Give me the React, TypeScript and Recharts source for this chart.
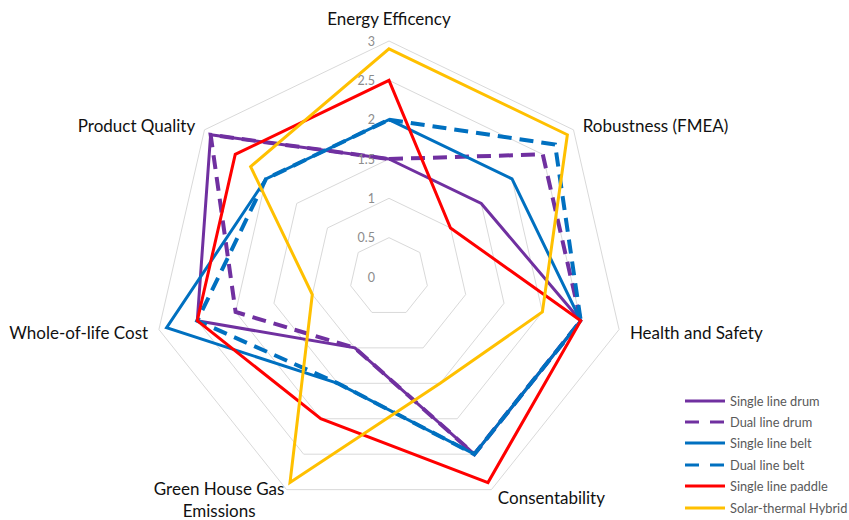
import React from 'react';
import { RadarChart, Radar, PolarGrid, PolarAngleAxis, PolarRadiusAxis, Legend } from 'recharts';

const criteria = [
  'Energy Efficency',
  'Robustness (FMEA)',
  'Health and Safety',
  'Consentability',
  'Green House Gas Emissions',
  'Whole-of-life Cost',
  'Product Quality',
];

const singleLineDrum = [1.5, 1.5, 2.5, 2.5, 1.0, 2.5, 2.9];
const dualLineDrum = [1.5, 2.5, 2.5, 2.5, 1.0, 2.0, 2.9];
const singleLineBelt = [2.0, 2.0, 2.5, 2.5, 1.5, 2.9, 2.0];
const dualLineBelt = [2.0, 2.7, 2.5, 2.5, 1.5, 2.5, 2.0];
const singleLinePaddle = [2.5, 1.0, 2.5, 2.9, 2.0, 2.5, 2.5];
const solarThermalHybrid = [2.9, 2.9, 2.0, 1.5, 2.9, 1.0, 2.25];

const radiusTicks = [0, 0.5, 1, 1.5, 2, 2.5, 3];

const series = [
  { key: 'drum1', name: 'Single line drum', values: singleLineDrum, color: '#7030A0', width: 3, dash: undefined },
  { key: 'drum2', name: 'Dual line drum', values: dualLineDrum, color: '#7030A0', width: 4, dash: '14 8' },
  { key: 'belt1', name: 'Single line belt', values: singleLineBelt, color: '#0070C0', width: 3, dash: undefined },
  { key: 'belt2', name: 'Dual line belt', values: dualLineBelt, color: '#0070C0', width: 4, dash: '14 8' },
  { key: 'paddle1', name: 'Single line paddle', values: singleLinePaddle, color: '#FF0000', width: 3, dash: undefined },
  { key: 'solar', name: 'Solar-thermal Hybrid', values: solarThermalHybrid, color: '#FFC000', width: 3, dash: undefined },
];

const data = criteria.map((c, i) => {
  const row: any = { criterion: c };
  series.forEach(s => { row[s.key] = s.values[i]; });
  return row;
});

const font = 'Lato, "Open Sans", sans-serif';
const labelSize = 17;

const AngleTick = (props: any) => {
  const { x, y, payload, textAnchor } = props;
  const label: string = payload.value;
  if (label.startsWith('Green House')) {
    return (
      <text x={x - 64} y={y} textAnchor="middle" fontFamily={font} fontSize={labelSize} fill="#111">
        <tspan x={x - 64} y={y - 8} dominantBaseline="central">Green House Gas</tspan>
        <tspan x={x - 64} y={y + 14} dominantBaseline="central">Emissions</tspan>
      </text>
    );
  }
  let dx = 0;
  let dy = 1;
  if (textAnchor === 'middle') dy = -15;
  if (textAnchor === 'start') dx = 3;
  if (textAnchor === 'end') dx = -3;
  return (
    <text x={x + dx} y={y + dy} textAnchor={textAnchor} dominantBaseline="central"
      fontFamily={font} fontSize={labelSize} fill="#111">
      {label}
    </text>
  );
};

const RadiusTick = (props: any) => {
  const { x, y, payload } = props;
  return (
    <text x={x - 14} y={y} textAnchor="end" dominantBaseline="central"
      fontFamily={font} fontSize={12.5} fill="#8c8c8c">
      {payload.value}
    </text>
  );
};

const LegendBox = () => (
  <div style={{ fontFamily: font, fontSize: 12.8, color: '#595959' }}>
    {series.map(s => (
      <div key={s.key} style={{ display: 'flex', alignItems: 'center', height: 21.4, whiteSpace: 'nowrap' }}>
        <svg width={42} height={8} style={{ marginRight: 4 }}>
          <line x1={1} y1={4} x2={41} y2={4} stroke={s.color} strokeWidth={3}
            strokeDasharray={s.dash ? '14 11' : undefined} />
        </svg>
        <span>{s.name}</span>
      </div>
    ))}
  </div>
);

export default function App() {
  return (
    <div style={{ position: 'absolute', left: 0, top: 0, width: 849, height: 520, background: '#fff' }}>
      <RadarChart width={849} height={520} data={data} cx={389} cy={277} outerRadius={236}>
        <PolarGrid gridType="polygon" radialLines={false} stroke="#d9d9d9" />
        <PolarAngleAxis dataKey="criterion" tick={AngleTick} tickLine={false} axisLine={false} />
        <PolarRadiusAxis angle={90} domain={[0, 3]} ticks={radiusTicks} tickCount={7}
          axisLine={false} tick={RadiusTick} />
        {series.map(s => (
          <Radar key={s.key} name={s.name} dataKey={s.key} stroke={s.color} strokeWidth={s.width}
            strokeDasharray={s.dash} fill="none" fillOpacity={0} dot={false}
            isAnimationActive={false} />
        ))}
        <Legend content={LegendBox} layout="vertical"
          wrapperStyle={{ position: 'absolute', left: 684, top: 390, width: 165 }} />
      </RadarChart>
    </div>
  );
}
